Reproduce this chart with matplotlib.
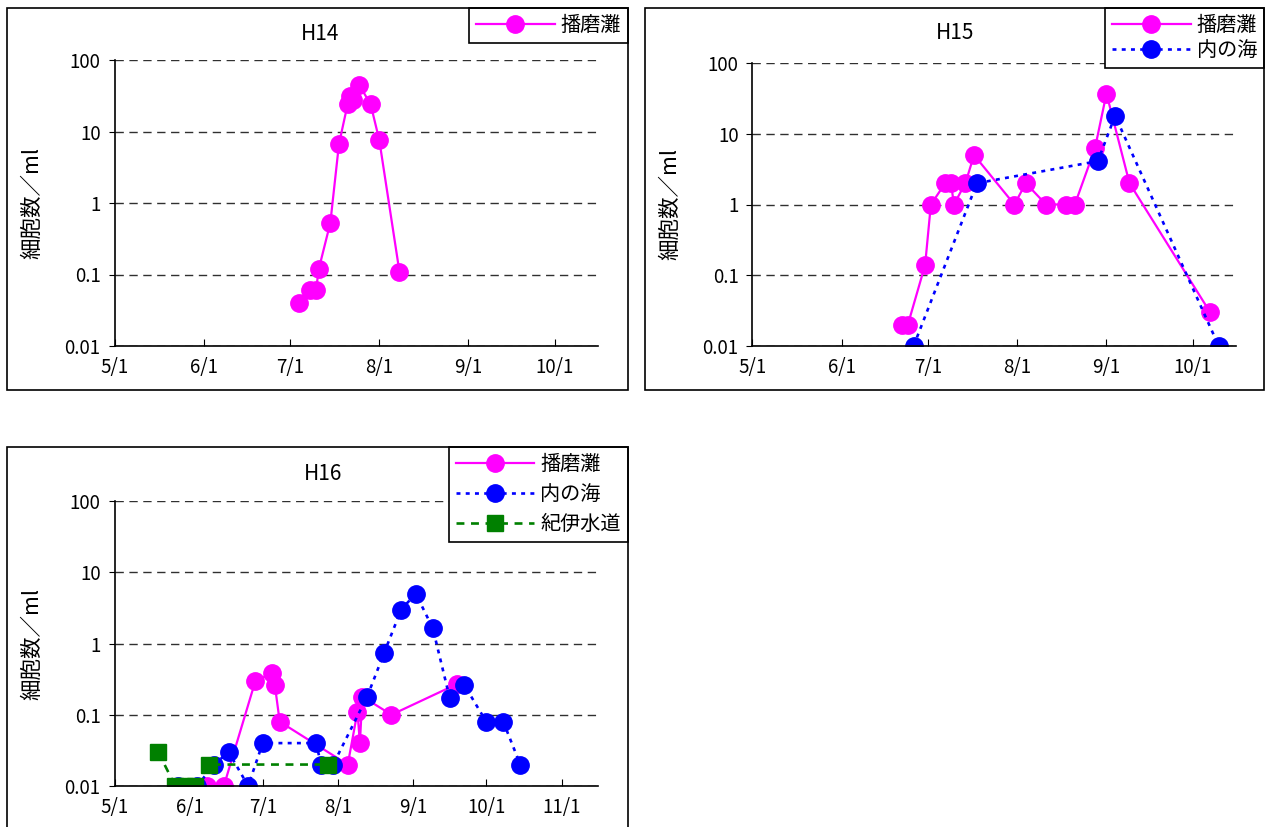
import matplotlib
matplotlib.use("Agg")
import matplotlib.pyplot as plt
import matplotlib.dates as mdates
from matplotlib.patches import Rectangle
from matplotlib.ticker import FuncFormatter, NullLocator
import pandas as pd

plt.rcParams["font.family"] = ["Noto Sans CJK JP", "DejaVu Sans"]

# ---- data (month/day, cells per ml) ----
h14_harima_dates = ["7/4", "7/8", "7/10", "7/11", "7/15", "7/18", "7/21", "7/22",
                    "7/23", "7/25", "7/29", "8/1", "8/8"]
h14_harima = [0.04, 0.06, 0.06, 0.12, 0.53, 6.7, 24, 31, 28, 45, 24, 7.6, 0.11]

h15_harima_dates = ["6/22", "6/24", "6/30", "7/2", "7/7", "7/9", "7/10", "7/14", "7/17",
                    "7/31", "8/4", "8/11", "8/18", "8/21", "8/28", "9/1", "9/9", "10/7"]
h15_harima = [0.02, 0.02, 0.14, 1, 2, 2, 1, 2, 5, 1, 2, 1, 1, 1, 6.2, 37, 2, 0.03]
h15_uchi_dates = ["6/26", "7/18", "8/29", "9/4", "10/10"]
h15_uchi = [0.01, 2, 4.1, 18, 0.01]

h16_harima_dates = ["6/8", "6/15", "6/28", "7/5", "7/6", "7/8", "8/5", "8/9", "8/10",
                    "8/11", "8/23", "9/19"]
h16_harima = [0.01, 0.01, 0.3, 0.38, 0.26, 0.08, 0.02, 0.11, 0.04, 0.18, 0.1, 0.27]
h16_uchi_dates = ["5/27", "6/4", "6/11", "6/17", "6/25", "7/1", "7/23", "7/25", "7/30",
                  "8/13", "8/20", "8/27", "9/2", "9/9", "9/16", "9/22", "10/1", "10/8", "10/15"]
h16_uchi = [0.01, 0.01, 0.02, 0.03, 0.01, 0.04, 0.04, 0.02, 0.02,
            0.18, 0.74, 3.0, 5.0, 1.64, 0.17, 0.26, 0.08, 0.08, 0.02]
h16_kii_dates = ["5/19", "5/26", "5/30", "6/3", "6/9", "7/28"]
h16_kii = [0.03, 0.01, 0.01, 0.01, 0.02, 0.02]

y_ticks = [0.01, 0.1, 1, 10, 100]
y_tick_labels = ["0.01", "0.1", "1", "10", "100"]
ylabel = "細胞数／ml"

W, H = 1265, 827


def to_dates(md, year=2004):
    return pd.to_datetime([f"{year}/{s}" for s in md], format="%Y/%m/%d")


def fig_box(l, t, r, b):
    # pixel box (top-left origin) -> figure fraction [left, bottom, width, height]
    return [l / W, 1 - b / H, (r - l) / W, (b - t) / H]


def setup_axes(ax, last_month, xmax):
    ax.set_yscale("log")
    ax.set_ylim(0.01, 100)
    ax.set_yticks(y_ticks)
    ax.set_yticklabels(y_tick_labels)
    ax.yaxis.set_minor_locator(NullLocator())
    ax.grid(axis="y", linestyle=(0, (6, 4)), color="#303030", linewidth=1)
    ax.set_axisbelow(True)
    ticks = pd.to_datetime([f"2004/{m}/1" for m in range(5, last_month + 1)])
    ax.set_xticks(mdates.date2num(ticks))
    ax.xaxis.set_major_formatter(
        FuncFormatter(lambda v, p: f"{mdates.num2date(v).month}/{mdates.num2date(v).day}"))
    ax.set_xlim(mdates.date2num(pd.Timestamp("2004/05/01")), mdates.date2num(pd.Timestamp(xmax)))
    for s in ("top", "right"):
        ax.spines[s].set_visible(False)
    for s in ("left", "bottom"):
        ax.spines[s].set_linewidth(1.2)
    ax.tick_params(axis="x", direction="in", length=5, pad=8, labelsize=13.5)
    ax.tick_params(axis="y", direction="out", length=4, pad=6, labelsize=13.5)
    ax.set_ylabel(ylabel, fontsize=15.5)
    ax.yaxis.set_label_coords(-0.148, 0.5)


pink = dict(color="#FF00FF", linestyle="-", linewidth=1.6, marker="o", markersize=12.5,
            label="播磨灘")
blue = dict(color="#0000FF", linestyle=(0, (1.5, 2.0)), linewidth=1.9, marker="o",
            markersize=12.5, label="内の海")
green = dict(color="#008000", linestyle=(0, (3, 2.5)), linewidth=1.9, marker="s",
             markersize=12, label="紀伊水道")


def add_legend(fig, ax, right, top, spacing):
    leg = ax.legend(loc="upper right", bbox_to_anchor=(right / W, 1 - top / H),
                    bbox_transform=fig.transFigure, borderaxespad=0, fontsize=14.5,
                    handlelength=3.9, handletextpad=0.3, labelspacing=spacing,
                    borderpad=0.35, fancybox=False, framealpha=1, edgecolor="black")
    leg.get_frame().set_linewidth(1.2)


fig = plt.figure(figsize=(W / 100, H / 100), dpi=100)

# frames around each chart
for (l, t, r, b) in [(7, 8, 628, 390), (645, 8, 1264, 390), (7, 447, 628, 840)]:
    fig.patches.append(Rectangle((l / W, 1 - b / H), (r - l) / W, (b - t) / H,
                                 transform=fig.transFigure, fill=False,
                                 edgecolor="black", linewidth=1.2))

# H14
ax1 = fig.add_axes(fig_box(114.5, 60, 598, 346))
setup_axes(ax1, 10, "2004/10/16")
ax1.plot(to_dates(h14_harima_dates), h14_harima, **pink)
add_legend(fig, ax1, 628, 8, 0.25)
fig.text(320 / W, 1 - 34 / H, "H14", ha="center", va="center", fontsize=15)

# H15
ax2 = fig.add_axes(fig_box(752.4, 63, 1236, 346))
setup_axes(ax2, 10, "2004/10/16")
ax2.plot(to_dates(h15_harima_dates), h15_harima, **pink)
ax2.plot(to_dates(h15_uchi_dates), h15_uchi, **blue)
add_legend(fig, ax2, 1264, 8, 0.2)
fig.text(955 / W, 1 - 33 / H, "H15", ha="center", va="center", fontsize=15)

# H16
ax3 = fig.add_axes(fig_box(114.5, 501, 598, 786))
setup_axes(ax3, 11, "2004/11/16")
ax3.plot(to_dates(h16_harima_dates), h16_harima, **pink)
ax3.plot(to_dates(h16_uchi_dates), h16_uchi, **blue)
ax3.plot(to_dates(h16_kii_dates), h16_kii, **green)
add_legend(fig, ax3, 628, 447, 0.45)
fig.text(323 / W, 1 - 474 / H, "H16", ha="center", va="center", fontsize=15)

fig.savefig("out.png", dpi=100)
